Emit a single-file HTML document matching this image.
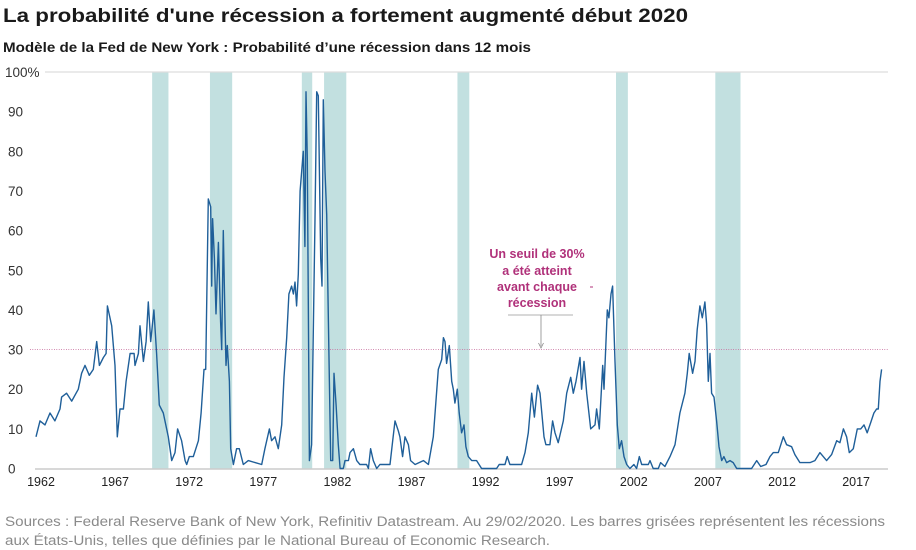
<!DOCTYPE html>
<html><head><meta charset="utf-8"><style>
body{margin:0;background:#fff;width:916px;height:550px;overflow:hidden;font-family:"Liberation Sans",sans-serif}
svg{display:block}
</style></head><body>
<svg id="chart" width="916" height="550">
<text x="3" y="22" font-size="19.5" font-weight="bold" fill="#1a1a1a" textLength="685" lengthAdjust="spacingAndGlyphs">La probabilité d'une récession a fortement augmenté début 2020</text>
<text x="3" y="52" font-size="13.5" font-weight="bold" fill="#1a1a1a" textLength="528" lengthAdjust="spacingAndGlyphs">Modèle de la Fed de New York : Probabilité d’une récession dans 12 mois</text>
<g id="bands"></g><g id="grid"></g><g id="axes"></g><g id="series"></g>
<g fill="#b0317a" font-weight="bold" font-size="12.5" text-anchor="middle" font-family="'Liberation Sans Narrow','Liberation Sans',sans-serif">
<text x="537" y="258">Un seuil de 30%</text>
<text x="537" y="275">a été atteint</text>
<text x="537" y="291">avant chaque</text>
<text x="537" y="307">récession</text>
<line x1="590" y1="287" x2="593" y2="287" stroke="#b0317a"/>
</g>
<line x1="508" y1="315" x2="573" y2="315" stroke="#999" stroke-width="0.8"/>
<line x1="541" y1="315" x2="541" y2="346" stroke="#888" stroke-width="0.8"/>
<path d="M538.5,343 L541,348 L543.5,343" fill="none" stroke="#888" stroke-width="0.8"/>
<text x="5" y="526" font-size="13.5" fill="#8a8a8a" textLength="880" lengthAdjust="spacingAndGlyphs">Sources : Federal Reserve Bank of New York, Refinitiv Datastream. Au 29/02/2020. Les barres grisées représentent les récessions</text>
<text x="5" y="545" font-size="13.5" fill="#8a8a8a" textLength="545" lengthAdjust="spacingAndGlyphs">aux États-Unis, telles que définies par le National Bureau of Economic Research.</text>
</svg>
<script>
const yTicks=[0,10,20,30,40,50,60,70,80,90,100];
const yTickLabels=["0","10","20","30","40","50","60","70","80","90","100%"];
const xTicks=[1962,1967,1972,1977,1982,1987,1992,1997,2002,2007,2012,2017];
const threshold=30;
const recStart=[1969.5,1973.4,1979.6,1981.1,1990.1,2000.8,2007.5];
const recEnd=[1970.6,1974.9,1980.3,1982.6,1990.9,2001.6,2009.2];
const years=[1961.66,1961.93,1962.27,1962.61,1962.94,1963.28,1963.39,1963.73,1964.07,1964.52,1964.74,1964.97,1965.26,1965.53,1965.76,1965.94,1966.21,1966.39,1966.48,1966.77,1966.99,1967.15,1967.33,1967.56,1967.74,1968.01,1968.28,1968.34,1968.57,1968.68,1968.91,1969.09,1969.24,1969.40,1969.62,1969.80,1969.98,1970.25,1970.59,1970.82,1971.04,1971.22,1971.49,1971.72,1971.83,1972.01,1972.28,1972.62,1972.80,1973.00,1973.11,1973.29,1973.45,1973.52,1973.58,1973.70,1973.81,1973.97,1974.12,1974.19,1974.30,1974.42,1974.48,1974.57,1974.71,1974.80,1974.98,1975.20,1975.38,1975.65,1975.99,1976.89,1977.11,1977.41,1977.56,1977.79,1978.01,1978.24,1978.40,1978.58,1978.73,1978.91,1979.03,1979.14,1979.25,1979.36,1979.48,1979.59,1979.70,1979.81,1979.88,1979.97,1980.11,1980.26,1980.49,1980.60,1980.71,1980.87,1980.96,1981.05,1981.16,1981.28,1981.39,1981.55,1981.68,1981.77,1981.91,1982.06,1982.18,1982.40,1982.51,1982.74,1982.85,1983.08,1983.30,1983.52,1983.97,1984.09,1984.24,1984.42,1984.65,1984.87,1985.55,1985.73,1985.89,1986.11,1986.22,1986.40,1986.56,1986.79,1986.94,1987.24,1987.80,1988.14,1988.47,1988.81,1989.04,1989.15,1989.26,1989.37,1989.55,1989.71,1989.82,1989.93,1990.09,1990.22,1990.38,1990.54,1990.67,1990.83,1991.06,1991.39,1991.73,1992.74,1992.92,1993.31,1993.46,1993.64,1994.43,1994.66,1994.88,1995.11,1995.29,1995.51,1995.67,1995.94,1996.07,1996.34,1996.52,1996.68,1996.90,1997.24,1997.47,1997.74,1997.92,1998.10,1998.37,1998.48,1998.64,1998.82,1999.09,1999.38,1999.49,1999.67,1999.90,1999.99,2000.21,2000.32,2000.46,2000.57,2000.73,2000.89,2001.02,2001.18,2001.34,2001.52,2001.74,2002.01,2002.19,2002.37,2002.53,2002.98,2003.09,2003.31,2003.65,2003.81,2004.10,2004.44,2004.78,2005.11,2005.45,2005.61,2005.74,2005.97,2006.13,2006.28,2006.46,2006.62,2006.80,2006.91,2007.03,2007.14,2007.25,2007.41,2007.59,2007.75,2007.93,2008.08,2008.26,2008.49,2008.71,2008.94,2009.95,2010.29,2010.56,2010.92,2011.19,2011.41,2011.75,2012.09,2012.31,2012.65,2012.87,2013.21,2013.89,2014.22,2014.56,2015.01,2015.35,2015.69,2015.91,2016.14,2016.36,2016.54,2016.81,2017.08,2017.31,2017.53,2017.75,2017.98,2018.20,2018.38,2018.50,2018.61,2018.72];
const probs=[8,12,11,14,12,15,18,19,17,20,24,26,23.5,25,32,26,28,29,41,36,26,8,15,15,22,29,29,26,29,36,27,32,42,32,40,29,16,14,8,2,4,10,7,2,1,3,3,7,14,25,25,68,66,46,63,53,39,57,37,30,60,36,26,31,22,5,1,5,5,1,2,1,5,10,7,8,5,11,23,33,44,46,44,47,41,49,70,75,80,56,95,78,2,6,63,95,94,53,46,93,75,64,37,2,2,24,16,6,0,0,2,2,4,5,2,1,1,0,5,2,0,1,1,7,12,9.5,8,3,8,6,2,1,2,1,8,25,27.5,33,32,26.5,31,22,20,16.5,20,14,9,11,5.5,3,2,2,0,0,1,1,3,1,1,4,9,19,13,21,19,8,6,6,12,9,6.5,12,19,23,19,22,28,20,27,19,10,11,15,10,26,20,40,38,44,46,27,11,5,7,3,1,0,1,0,3,1,1,2,0,0,1.5,0.5,3,6,14,19,24,29,24,27,35,41,38,42,36.5,22,29,19,18,12,5.5,2,3,1.5,2,1.5,0,0,2,0.5,1,3,4,4,8,6,5.5,3.5,1.5,1.5,2,4,2,3.5,7,6.5,10,8,4,5,10,10,11,9,11.5,14,15,15,22,25];

const NS='http://www.w3.org/2000/svg';
const X0=41,PX=14.82,Y0=468.5,PY=3.965;
function xs(y){return X0+(y-1962)*PX;}
function ys(v){return Y0-v*PY;}
function mk(tag,attrs,parent){const e=document.createElementNS(NS,tag);for(const k in attrs)e.setAttribute(k,attrs[k]);document.getElementById(parent).appendChild(e);return e;}

recStart.forEach((s,i)=>{
  const r=mk('rect',{x:xs(s),y:ys(100),width:xs(recEnd[i])-xs(s),height:ys(0)-ys(100),fill:'#c2e0e0'},'bands');
  
  
});
const gridTop=mk('line',{x1:45,x2:888,y1:ys(100),y2:ys(100),stroke:'#ddd','stroke-width':1.2},'grid');


const baseLine=mk('line',{x1:35,x2:888,y1:ys(0)+0.5,y2:ys(0)+0.5,stroke:'#ccc','stroke-width':1.5},'axes');


const thLine=mk('line',{x1:30,x2:888,y1:ys(threshold),y2:ys(threshold),stroke:'#c9709e','stroke-width':1,'stroke-dasharray':'0.8,1.6'},'grid');


yTicks.forEach((v,i)=>{
  const t=mk('text',{x:i===10?5:8,y:ys(v)+5,'font-size':13.5,fill:'#333'},'axes');
  t.textContent=yTickLabels[i];
  
  
});
xTicks.forEach(v=>{
  const t=mk('text',{x:xs(v),y:486,'font-size':12.5,fill:'#222','text-anchor':'middle'},'axes');
  t.textContent=String(v);
  
  
});
let d='';
years.forEach((y,i)=>{d+=(i?'L':'M')+xs(y).toFixed(1)+','+ys(probs[i]).toFixed(1);});
const seriesPath=mk('path',{d:d,fill:'none',stroke:'#1f5f99','stroke-width':1.4,'stroke-linejoin':'round'},'series');


</script>
</body></html>
